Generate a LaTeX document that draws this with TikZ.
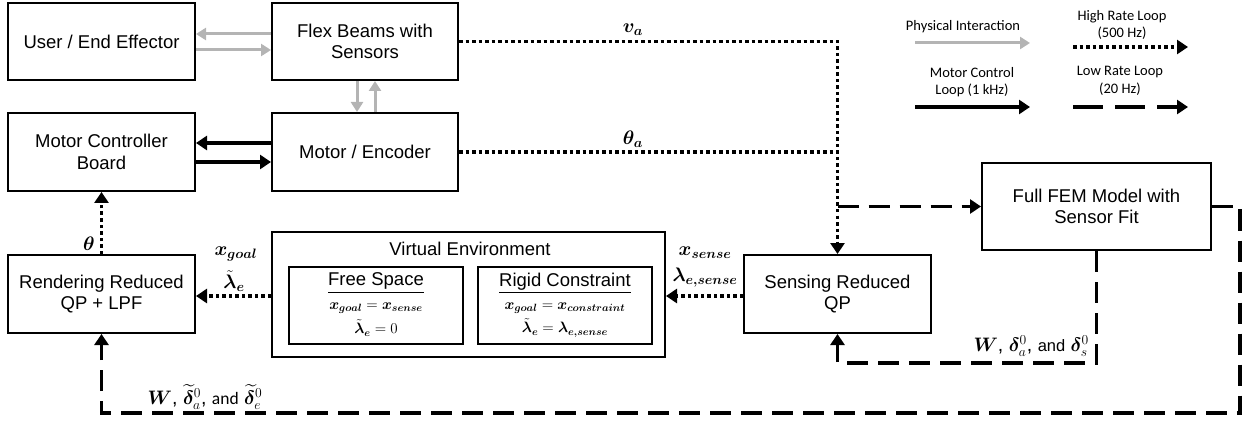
\RequirePackage{fix-cm}
\documentclass[tikz,border=0pt]{standalone}
\usepackage{amsmath}
\usepackage{bm}
\usepackage{fontspec}
\setmainfont{Liberation Sans}
\newfontfamily\calibri{Carlito}
\usetikzlibrary{arrows.meta}
\definecolor{lgrey}{RGB}{180,180,180}
\begin{document}
\begin{tikzpicture}[x=1pt,y=-1pt,
  box/.style={draw, line width=2pt, inner sep=0pt, align=center, font=\fontsize{18.5}{21.5}\selectfont},
  sub/.style={draw, line width=1.6pt, inner sep=0pt, align=center, minimum width=174pt, minimum height=77pt},
  ptip/.style={-{Triangle[length=10pt,width=12pt]}},
  btip/.style={-{Triangle[length=11pt,width=14pt]}},
  phys/.style={draw=lgrey, line width=3pt, ptip},
  motor/.style={draw=black, line width=4pt, btip},
  hirate/.style={line width=3.5pt, dash pattern=on 3.5pt off 3pt},
  lorate/.style={line width=3.5pt, dash pattern=on 21pt off 10pt},
  mlab/.style={font=\fontsize{19.5}{21}\selectfont, inner sep=0pt},
  eq/.style={font=\fontsize{15}{17}\selectfont, inner sep=0pt},
  leg/.style={font=\calibri\fontsize{14.5}{17.5}\selectfont, align=center, inner sep=0pt}]
\useasboundingbox (0,0) rectangle (1247,422);
% boxes
\node[box, minimum width=187pt, minimum height=77pt] (user) at (101.5,41.5) {User / End Effector};
\node[box, minimum width=186pt, minimum height=77pt] (flex) at (365,41.5) {Flex Beams with\\Sensors};
\node[box, minimum width=187pt, minimum height=78pt] (mcb) at (101.5,152) {Motor Controller\\Board};
\node[box, minimum width=186pt, minimum height=78pt] (motorenc) at (365,152) {Motor / Encoder};
\node[box, minimum width=187pt, minimum height=78pt] (render) at (101.5,294) {Rendering Reduced\\QP + LPF};
\node[box, minimum width=393pt, minimum height=125pt] (ve) at (468.5,294.5) {};
\node[box, draw=none, anchor=center] (vetitle) at (470,249) {Virtual Environment};
\node[sub] (free) at (376,305.5) {};
\node[sub] (rigid) at (565,305.5) {};
\node[box, draw=none] (freet) at (376,283) {\underline{Free Space}};
\node[box, draw=none] (rigidt) at (565,283) {\underline{Rigid Constraint}};
\node[eq] (freeq1) at (376,308) {$\bm{x}_{\bm{goal}}=\bm{x}_{\bm{sense}}$};
\node[eq] (freeq2) at (376,328) {$\tilde{\bm\lambda}_{\bm e}=0$};
\node[eq] (rigq1) at (565,308) {$\bm{x}_{\bm{goal}}=\bm{x}_{\bm{constraint}}$};
\node[eq] (rigq2) at (565,328) {$\tilde{\bm\lambda}_{\bm e}=\bm\lambda_{\bm{e,sense}}$};
\node[box, minimum width=187pt, minimum height=78pt] (sense) at (837.5,294) {Sensing Reduced\\QP};
\node[box, minimum width=229pt, minimum height=87pt] (fem) at (1096.5,206.5) {Full FEM Model with\\Sensor Fit};
% physical interaction
\draw[phys] (flex.west |- 0,34) -- (user.east |- 0,34);
\draw[phys] (user.east |- 0,50) -- (flex.west |- 0,50);
\draw[phys] (357,0 |- flex.south) -- (357,0 |- motorenc.north);
\draw[phys] (375,0 |- motorenc.north) -- (375,0 |- flex.south);
% motor control loop
\draw[motor] (motorenc.west |- 0,143) -- (mcb.east |- 0,143);
\draw[motor] (mcb.east |- 0,162) -- (motorenc.west |- 0,162);
% high rate loop
\draw[hirate, btip] (flex.east) -| (sense.north);
\draw[hirate] (motorenc.east) -- (sense.north |- motorenc.east);
\node[mlab] (va) at (633,30) {$\bm v_{\bm a}$};
\node[mlab] (tha) at (633,139) {$\bm\theta_{\bm a}$};
\draw[hirate, btip] (sense.west |- 0,296) -- (ve.east |- 0,296);
\draw[hirate, btip] (ve.west |- 0,296) -- (render.east |- 0,296);
\draw[hirate, btip] (render.north) -- (mcb.south);
\node[mlab] (th) at (89,244) {$\bm\theta$};
\node[mlab] (xg) at (236,254) {$\bm x_{\bm{goal}}$};
\node[mlab] (lg) at (234,281) {$\tilde{\bm\lambda}_{\bm e}$};
\node[mlab] (xs) at (705,253) {$\bm x_{\bm{sense}}$};
\node[mlab] (ls) at (705,278) {$\bm\lambda_{\bm{e,sense}}$};
% low rate loop
\draw[lorate, btip] (sense.north |- fem.west) -- (fem.west);
\coordinate (c1) at (1240,413);
\draw[lorate, btip] (fem.east) -| (c1) -| (render.south);
\coordinate (c2) at (837.5,363);
\draw[lorate, btip] (fem.south) |- (c2) -- (sense.south);
\node[mlab, anchor=east] (wr) at (1089,346) {$\bm W$, $\bm\delta_a^0$, {\fontsize{16.5}{19}\selectfont and} $\bm\delta_s^0$};
\node[mlab] (wl) at (205,397) {$\bm W$, $\widetilde{\bm\delta}_a^0$, {\calibri\fontsize{17.5}{19}\selectfont and} $\widetilde{\bm\delta}_e^0$};
% legend
\node[leg] (lphys) at (963,27) {Physical Interaction};
\coordinate (p1) at (915,43); \coordinate (p2) at (1030,43);
\draw[phys] (p1) -- (p2);
\node[leg] (lmot) at (972,82) {Motor Control\\Loop (1 kHz)};
\coordinate (m1) at (915,107); \coordinate (m2) at (1030,107);
\draw[motor] (m1) -- (m2);
\node[leg] (lhi) at (1122,25) {High Rate Loop\\(500 Hz)};
\coordinate (h1) at (1073,47); \coordinate (h2) at (1188,47);
\draw[hirate, btip] (h1) -- (h2);
\node[leg] (llo) at (1120,81) {Low Rate Loop\\(20 Hz)};
\coordinate (l1) at (1073,107); \coordinate (l2) at (1188,107);
\draw[line width=3.5pt, dash pattern=on 30pt off 12pt, btip] (l1) -- (l2);
\end{tikzpicture}
\end{document}
